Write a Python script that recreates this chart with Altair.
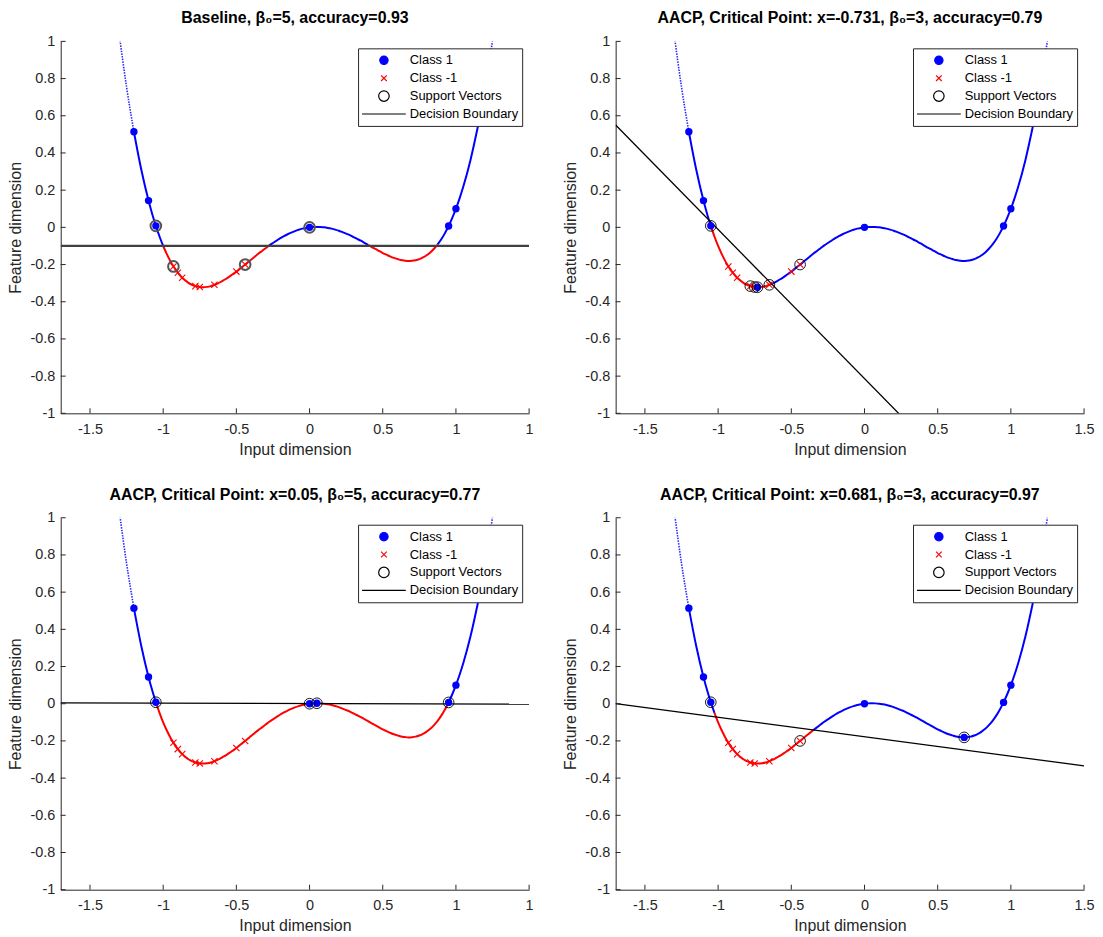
import altair as alt
import pandas as pd

FONT = "Liberation Sans"
AX = "#262626"
BLUE = "#0000FF"
RED = "#FF0000"
XMIN, XMAX = -1.7, 1.5
W, H = 471, 374

X_TICKS = [-1.5, -1, -0.5, 0, 0.5, 1, 1.5]
Y_TICKS = [-1, -0.8, -0.6, -0.4, -0.2, 0, 0.2, 0.4, 0.6, 0.8, 1]

# curve
CURVE_X = [-1.30, -1.25, -1.20, -1.15, -1.10, -1.075, -1.05, -1.025, -1.000, -0.975,
           -0.950, -0.925, -0.900, -0.875, -0.850, -0.825, -0.800, -0.775, -0.750, -0.725,
           -0.700, -0.675, -0.650, -0.625, -0.600, -0.575, -0.550, -0.525, -0.500, -0.475,
           -0.450, -0.425, -0.400, -0.375, -0.350, -0.325, -0.300, -0.275, -0.250, -0.225,
           -0.200, -0.175, -0.150, -0.125, -0.100, -0.075, -0.050, -0.025, 0.000, 0.025,
           0.050, 0.075, 0.100, 0.125, 0.150, 0.175, 0.200, 0.225, 0.250, 0.275,
           0.300, 0.325, 0.350, 0.375, 0.400, 0.425, 0.450, 0.475, 0.500, 0.525,
           0.550, 0.575, 0.600, 0.625, 0.650, 0.675, 0.700, 0.725, 0.750, 0.775,
           0.800, 0.825, 0.850, 0.875, 0.900, 0.925, 0.950, 0.975, 1.000, 1.025,
           1.05, 1.10, 1.15, 1.20, 1.25]
CURVE_Y = [1.036, 0.754, 0.514, 0.312, 0.144, 0.072, 0.008, -0.049, -0.100, -0.144,
           -0.183, -0.216, -0.244, -0.267, -0.285, -0.300, -0.310, -0.317, -0.321, -0.322,
           -0.320, -0.316, -0.309, -0.301, -0.290, -0.279, -0.266, -0.252, -0.238, -0.222,
           -0.206, -0.191, -0.174, -0.158, -0.142, -0.127, -0.112, -0.097, -0.084, -0.071,
           -0.058, -0.047, -0.037, -0.028, -0.020, -0.013, -0.007, -0.003, 0.000, 0.0019,
           0.0025, 0.0019, 0.0001, -0.003, -0.007, -0.012, -0.018, -0.026, -0.034, -0.042,
           -0.052, -0.062, -0.072, -0.083, -0.094, -0.106, -0.116, -0.127, -0.138, -0.147,
           -0.156, -0.164, -0.170, -0.176, -0.179, -0.181, -0.180, -0.177, -0.171, -0.162,
           -0.150, -0.135, -0.115, -0.092, -0.064, -0.031, 0.007, 0.051, 0.100, 0.156,
           0.218, 0.364, 0.542, 0.754, 1.004]

CLASS1_X = [-1.2, -1.1, -1.05, 0.0, 0.95, 1.0]
CLASS1_Y = [0.514, 0.144, 0.008, 0.0, 0.007, 0.100]
CLASSN_X = [-0.93, -0.90, -0.87, -0.78, -0.75, -0.65, -0.50, -0.44]
CLASSN_Y = [-0.210, -0.244, -0.271, -0.316, -0.321, -0.309, -0.238, -0.200]

TITLES = ["Baseline, β₀=5, accuracy=0.93",
          "AACP, Critical Point: x=-0.731, β₀=3, accuracy=0.79",
          "AACP, Critical Point: x=0.05, β₀=5, accuracy=0.77",
          "AACP, Critical Point: x=0.681, β₀=3, accuracy=0.97"]
# decision boundary: y at x=-1.7 and at x=1.5
LINE_LEFT = [-0.1, 0.55, 0.005, 0.0]
LINE_RIGHT = [-0.1, -2.016, -0.002, -0.334]
CRIT_X = [None, -0.731, 0.05, 0.681]
CRIT_Y = [None, -0.322, 0.0025, -0.181]
SV_X = [[-1.05, -0.93, -0.44, 0.0],
        [-1.05, -0.78, -0.75, -0.731, -0.65, -0.44],
        [-1.05, 0.0, 0.05, 0.95],
        [-1.05, -0.44, 0.681]]
SV_Y = [[0.008, -0.210, -0.200, 0.0],
        [0.008, -0.316, -0.321, -0.322, -0.309, -0.200],
        [0.008, 0.0, 0.0025, 0.007],
        [0.008, -0.200, -0.181]]
LABEL_QUIRK = [True, False, True, False]

LEG = ["Class 1", "Class -1", "Support Vectors", "Decision Boundary"]
LEG_SHAPES = [
    "M-0.19,0A0.19,0.19,0,1,1,0.19,0A0.19,0.19,0,1,1,-0.19,0Z",
    "M-0.13,-0.13L0.13,0.13M-0.13,0.13L0.13,-0.13",
    "M-0.24,0A0.24,0.24,0,1,1,0.24,0A0.24,0.24,0,1,1,-0.24,0Z",
    "M-1,0L1,0",
]
X_PATH = "M-1,-1L1,1M-1,1L1,-1"
DOT_LEVEL = 0.45


def curve_frame(yl, yr):
    slope = (yr - yl) / (XMAX - XMIN)
    n = len(CURVE_X)
    keys = []
    for j in range(n - 1):
        xm = (CURVE_X[j] + CURVE_X[j + 1]) / 2
        ym = (CURVE_Y[j] + CURVE_Y[j + 1]) / 2
        cls = "c1" if ym > yl + slope * (xm - XMIN) else "cn"
        sty = "dot" if min(CURVE_Y[j], CURVE_Y[j + 1]) > DOT_LEVEL else "solid"
        keys.append((cls, sty))
    rows = []
    seg = 0
    start = 0
    for j in range(1, n):
        if j == n - 1 or keys[j] != keys[start]:
            for k in range(start, j + 1):
                rows.append(dict(x=CURVE_X[k], y=CURVE_Y[k], seg=seg,
                                 cls=keys[start][0], sty=keys[start][1]))
            seg += 1
            start = j
    return pd.DataFrame(rows)


def panel(i):
    xs = alt.Scale(domain=[XMIN, XMAX], nice=False, zero=False)
    ys = alt.Scale(domain=[-1, 1], nice=False, zero=False)
    lexpr = ("datum.value == 1.5 ? '1' : toString(datum.value)" if LABEL_QUIRK[i]
             else "toString(datum.value)")
    xaxis = alt.Axis(values=X_TICKS, labelExpr=lexpr, title="Input dimension",
                     labelFlush=False)
    yaxis = alt.Axis(values=Y_TICKS, labelExpr="toString(datum.value)", title="Feature dimension",
                     labelFlush=False)

    def X(f):
        return alt.X(f, scale=xs, axis=xaxis)

    def Y(f):
        return alt.Y(f, scale=ys, axis=yaxis)

    cdf = curve_frame(LINE_LEFT[i], LINE_RIGHT[i])
    cscale = alt.Scale(domain=["c1", "cn"], range=[BLUE, RED])
    base_c = alt.Chart(cdf)
    solid = base_c.transform_filter("datum.sty == 'solid'").mark_line(
        interpolate="monotone", clip=True, strokeWidth=2).encode(
        x=X("x:Q"), y=Y("y:Q"), detail="seg:N",
        color=alt.Color("cls:N", scale=cscale, legend=None),
    )
    dotted = base_c.transform_filter("datum.sty == 'dot'").mark_line(
        interpolate="monotone", clip=True, strokeWidth=1.6, strokeDash=[1.5, 1.2],
        opacity=0.85).encode(
        x=X("x:Q"), y=Y("y:Q"), detail="seg:N",
        color=alt.Color("cls:N", scale=cscale, legend=None),
    )

    ldf = pd.DataFrame({"x": [XMIN, XMAX], "y": [LINE_LEFT[i], LINE_RIGHT[i]]})
    if i == 0:
        lc, lw = "#404040", 2.2
    else:
        lc, lw = "black", 1.3
    dline = alt.Chart(ldf).mark_line(clip=True, color=lc, strokeWidth=lw).encode(
        x=X("x:Q"), y=Y("y:Q"))

    ndf = pd.DataFrame({"x": CLASSN_X, "y": CLASSN_Y})
    crosses = alt.Chart(ndf).mark_point(shape=X_PATH, size=40, color=RED, filled=False,
                                        strokeWidth=1.1, opacity=1, clip=True).encode(
        x=X("x:Q"), y=Y("y:Q"))

    px = list(CLASS1_X) + ([CRIT_X[i]] if CRIT_X[i] is not None else [])
    py = list(CLASS1_Y) + ([CRIT_Y[i]] if CRIT_Y[i] is not None else [])
    dots = alt.Chart(pd.DataFrame({"x": px, "y": py})).mark_circle(
        size=55, color=BLUE, opacity=1, clip=True).encode(x=X("x:Q"), y=Y("y:Q"))

    if i == 0:
        sc, sw = "#555555", 2.0
    else:
        sc, sw = "black", 0.9
    svs = alt.Chart(pd.DataFrame({"x": SV_X[i], "y": SV_Y[i]})).mark_point(
        shape="circle", size=115, color=sc, filled=False, strokeWidth=sw, opacity=1,
        clip=True).encode(x=X("x:Q"), y=Y("y:Q"))

    xt = alt.Chart(pd.DataFrame({"x": X_TICKS})).mark_rule(color=AX, strokeWidth=1).encode(
        x=X("x:Q"), y=alt.value(H), y2=alt.value(H - 5))
    yt = alt.Chart(pd.DataFrame({"y": Y_TICKS})).mark_rule(color=AX, strokeWidth=1).encode(
        y=Y("y:Q"), x=alt.value(0), x2=alt.value(5))

    legend = alt.Legend(title=None, orient="top-right", offset=7, symbolSize=1936,
                        fillColor="white", strokeColor=AX, padding=3, rowPadding=0,
                        clipHeight=18, labelFont=FONT, labelFontSize=13, labelColor="black",
                        labelOffset=3, symbolStrokeWidth=1.2)
    legdf = pd.DataFrame({"lg": LEG, "x": [-9.0] * 4, "y": [0.0] * 4})
    leg = alt.Chart(legdf).mark_point(clip=True, size=1936, opacity=1, filled=False).encode(
        x=X("x:Q"), y=Y("y:Q"),
        shape=alt.Shape("lg:N", scale=alt.Scale(domain=LEG, range=LEG_SHAPES), legend=legend),
        stroke=alt.Stroke("lg:N", scale=alt.Scale(domain=LEG, range=[BLUE, RED, "black", "black"]),
                          legend=legend),
        fill=alt.Fill("lg:N", scale=alt.Scale(domain=LEG, range=[BLUE, "transparent", "transparent", "transparent"]),
                      legend=legend),
    )

    return alt.layer(solid, dotted, dline, crosses, dots, svs, xt, yt, leg).properties(
        width=W, height=H,
        title=alt.TitleParams(TITLES[i], fontSize=16, fontWeight="bold", font=FONT,
                              color="black", offset=7),
    )


RES = dict(shape="independent", stroke="independent", fill="independent", color="independent")
row1 = alt.hconcat(panel(0), panel(1), spacing=29).resolve_scale(**RES).resolve_legend(**RES)
row2 = alt.hconcat(panel(2), panel(3), spacing=29).resolve_scale(**RES).resolve_legend(**RES)
chart = alt.vconcat(row1, row2, spacing=29).resolve_scale(**RES).resolve_legend(**RES).properties(
    padding={"left": 0, "top": 0, "right": 0, "bottom": 0}
).configure_view(stroke=None).configure_axis(
    grid=False, ticks=False, domainColor=AX, domainWidth=1, labelColor=AX, titleColor=AX,
    labelFont=FONT, titleFont=FONT, labelFontSize=14.5, titleFontSize=16,
    titleFontWeight="normal", labelPadding=6, titlePadding=6,
).configure_axisX(labelPadding=9, titlePadding=6)

chart.save("out.html", embed_options={"renderer": "svg", "actions": False})
